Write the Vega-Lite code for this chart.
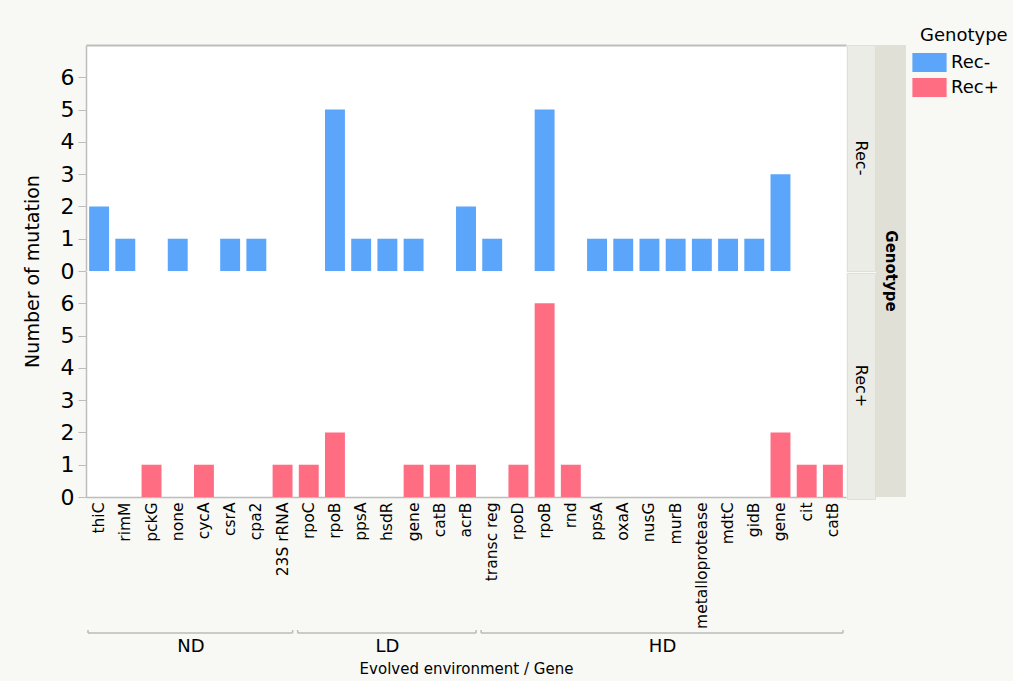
{
  "$schema": "https://vega.github.io/schema/vega-lite/v6.json",
  "background": "#f8f8f4",
  "padding": {"left": 23, "top": 27, "right": 5, "bottom": 5},
  "config": {
    "font": "DejaVu Sans",
    "view": {"stroke": null},
    "axis": {"grid": false, "labelColor": "#000000", "titleColor": "#000000", "titleFontWeight": "normal"},
    "text": {"color": "#000000"}
  },
  "datasets": {
    "genes": [
      {"env": "ND", "gene": "thiC", "geno": "Rec-", "count": 2},
      {"env": "ND", "gene": "rimM", "geno": "Rec-", "count": 1},
      {"env": "ND", "gene": "pckG", "geno": "Rec-", "count": 0},
      {"env": "ND", "gene": "none", "geno": "Rec-", "count": 1},
      {"env": "ND", "gene": "cycA", "geno": "Rec-", "count": 0},
      {"env": "ND", "gene": "csrA", "geno": "Rec-", "count": 1},
      {"env": "ND", "gene": "cpa2", "geno": "Rec-", "count": 1},
      {"env": "ND", "gene": "23S rRNA", "geno": "Rec-", "count": 0},
      {"env": "LD", "gene": "rpoC", "geno": "Rec-", "count": 0},
      {"env": "LD", "gene": "rpoB", "geno": "Rec-", "count": 5},
      {"env": "LD", "gene": "ppsA", "geno": "Rec-", "count": 1},
      {"env": "LD", "gene": "hsdR", "geno": "Rec-", "count": 1},
      {"env": "LD", "gene": "gene", "geno": "Rec-", "count": 1},
      {"env": "LD", "gene": "catB", "geno": "Rec-", "count": 0},
      {"env": "LD", "gene": "acrB", "geno": "Rec-", "count": 2},
      {"env": "HD", "gene": "transc reg", "geno": "Rec-", "count": 1},
      {"env": "HD", "gene": "rpoD", "geno": "Rec-", "count": 0},
      {"env": "HD", "gene": "rpoB", "geno": "Rec-", "count": 5},
      {"env": "HD", "gene": "rnd", "geno": "Rec-", "count": 0},
      {"env": "HD", "gene": "ppsA", "geno": "Rec-", "count": 1},
      {"env": "HD", "gene": "oxaA", "geno": "Rec-", "count": 1},
      {"env": "HD", "gene": "nusG", "geno": "Rec-", "count": 1},
      {"env": "HD", "gene": "murB", "geno": "Rec-", "count": 1},
      {"env": "HD", "gene": "metalloprotease", "geno": "Rec-", "count": 1},
      {"env": "HD", "gene": "mdtC", "geno": "Rec-", "count": 1},
      {"env": "HD", "gene": "gidB", "geno": "Rec-", "count": 1},
      {"env": "HD", "gene": "gene", "geno": "Rec-", "count": 3},
      {"env": "HD", "gene": "cit", "geno": "Rec-", "count": 0},
      {"env": "HD", "gene": "catB", "geno": "Rec-", "count": 0},
      {"env": "ND", "gene": "thiC", "geno": "Rec+", "count": 0},
      {"env": "ND", "gene": "rimM", "geno": "Rec+", "count": 0},
      {"env": "ND", "gene": "pckG", "geno": "Rec+", "count": 1},
      {"env": "ND", "gene": "none", "geno": "Rec+", "count": 0},
      {"env": "ND", "gene": "cycA", "geno": "Rec+", "count": 1},
      {"env": "ND", "gene": "csrA", "geno": "Rec+", "count": 0},
      {"env": "ND", "gene": "cpa2", "geno": "Rec+", "count": 0},
      {"env": "ND", "gene": "23S rRNA", "geno": "Rec+", "count": 1},
      {"env": "LD", "gene": "rpoC", "geno": "Rec+", "count": 1},
      {"env": "LD", "gene": "rpoB", "geno": "Rec+", "count": 2},
      {"env": "LD", "gene": "ppsA", "geno": "Rec+", "count": 0},
      {"env": "LD", "gene": "hsdR", "geno": "Rec+", "count": 0},
      {"env": "LD", "gene": "gene", "geno": "Rec+", "count": 1},
      {"env": "LD", "gene": "catB", "geno": "Rec+", "count": 1},
      {"env": "LD", "gene": "acrB", "geno": "Rec+", "count": 1},
      {"env": "HD", "gene": "transc reg", "geno": "Rec+", "count": 0},
      {"env": "HD", "gene": "rpoD", "geno": "Rec+", "count": 1},
      {"env": "HD", "gene": "rpoB", "geno": "Rec+", "count": 6},
      {"env": "HD", "gene": "rnd", "geno": "Rec+", "count": 1},
      {"env": "HD", "gene": "ppsA", "geno": "Rec+", "count": 0},
      {"env": "HD", "gene": "oxaA", "geno": "Rec+", "count": 0},
      {"env": "HD", "gene": "nusG", "geno": "Rec+", "count": 0},
      {"env": "HD", "gene": "murB", "geno": "Rec+", "count": 0},
      {"env": "HD", "gene": "metalloprotease", "geno": "Rec+", "count": 0},
      {"env": "HD", "gene": "mdtC", "geno": "Rec+", "count": 0},
      {"env": "HD", "gene": "gidB", "geno": "Rec+", "count": 0},
      {"env": "HD", "gene": "gene", "geno": "Rec+", "count": 2},
      {"env": "HD", "gene": "cit", "geno": "Rec+", "count": 1},
      {"env": "HD", "gene": "catB", "geno": "Rec+", "count": 1}
    ],
    "envs": [
      {"env": "ND", "start": 0, "end": 8},
      {"env": "LD", "start": 8, "end": 15},
      {"env": "HD", "start": 15, "end": 29}
    ],
    "strips": [
      {"geno": "Rec-"},
      {"geno": "Rec+"}
    ],
    "facetTitle": [
      {"label": "Genotype"}
    ]
  },
  "spacing": 0,
  "vconcat": [
    {
      "spacing": 0,
      "hconcat": [
        {
          "spacing": 0,
          "bounds": "flush",
          "vconcat": [
            {
              "width": 760,
              "height": 226,
              "view": {"fill": "#ffffff"},
              "data": {"name": "genes"},
              "transform": [
                {"calculate": "datum.env + ':' + datum.gene", "as": "key"},
                {"filter": "datum.geno === 'Rec-'"}
              ],
              "mark": {"type": "bar", "width": {"band": 0.76}},
              "encoding": {
                "x": {
                  "field": "key", "type": "nominal", "sort": null,
                  "scale": {"paddingInner": 0, "paddingOuter": 0},
                  "axis": {"orient": "top", "labels": false, "ticks": false, "title": null, "domainColor": "#bdbdbd", "domainWidth": 2}
                },
                "y": {
                  "field": "count", "type": "quantitative",
                  "scale": {"domain": [0, 7], "nice": false},
                  "axis": {
                    "values": [0, 1, 2, 3, 4, 5, 6],
                    "title": "Number of mutation",
                    "titleY": 226,
                    "titleFontSize": 19,
                    "titlePadding": 18,
                    "labelFontSize": 22,
                    "labelPadding": 4,
                    "tickSize": 8,
                    "tickColor": "#bdbdbd",
                    "domainColor": "#bdbdbd",
                    "domainWidth": 1.5
                  }
                },
                "color": {
                  "field": "geno", "type": "nominal",
                  "scale": {"domain": ["Rec-", "Rec+"], "range": ["#5BA5FA", "#FF6D83"]},
                  "legend": {
                    "title": "Genotype",
                    "orient": "none",
                    "legendX": 834,
                    "legendY": -18,
                    "titleFontSize": 18,
                    "titleFontWeight": "normal",
                    "titleColor": "#000000",
                    "titlePadding": 8,
                    "labelFontSize": 18,
                    "labelColor": "#000000",
                    "labelOffset": 12,
                    "symbolType": "M-1.8,-1H1.8V1H-1.8Z",
                    "symbolSize": 361,
                    "symbolStrokeWidth": 0,
                    "symbolOpacity": 1,
                    "rowPadding": 6
                  }
                }
              }
            },
            {
              "width": 760,
              "height": 226,
              "view": {"fill": "#ffffff"},
              "data": {"name": "genes"},
              "transform": [
                {"calculate": "datum.env + ':' + datum.gene", "as": "key"},
                {"filter": "datum.geno === 'Rec+'"}
              ],
              "mark": {"type": "bar", "width": {"band": 0.76}},
              "encoding": {
                "x": {
                  "field": "key", "type": "nominal", "sort": null,
                  "scale": {"paddingInner": 0, "paddingOuter": 0},
                  "axis": {
                    "title": null,
                    "labelExpr": "split(datum.label, ':')[1]",
                    "labelAngle": -90,
                    "labelFontSize": 15.5,
                    "labelPadding": 5,
                    "ticks": false,
                    "domainColor": "#bdbdbd",
                    "domainWidth": 1.5
                  }
                },
                "y": {
                  "field": "count", "type": "quantitative",
                  "scale": {"domain": [0, 7], "nice": false},
                  "axis": {
                    "values": [0, 1, 2, 3, 4, 5, 6],
                    "title": null,
                    "labelFontSize": 22,
                    "labelPadding": 4,
                    "tickSize": 8,
                    "tickColor": "#bdbdbd",
                    "domainColor": "#bdbdbd",
                    "domainWidth": 1.5
                  }
                },
                "color": {"field": "geno", "type": "nominal"}
              }
            }
          ]
        },
        {
          "spacing": 0,
          "vconcat": [
            {
              "width": 28,
              "height": 226,
              "view": {"fill": "#ecece6", "stroke": "#dedfd6"},
              "data": {"name": "strips"},
              "transform": [{"filter": "datum.geno === 'Rec-'"}],
              "mark": {"type": "text", "angle": 90, "fontSize": 16},
              "encoding": {
                "x": {"field": "geno", "type": "nominal", "axis": null},
                "y": {"field": "geno", "type": "nominal", "axis": null},
                "text": {"field": "geno"}
              }
            },
            {
              "width": 28,
              "height": 226,
              "view": {"fill": "#ecece6", "stroke": "#dedfd6"},
              "data": {"name": "strips"},
              "transform": [{"filter": "datum.geno === 'Rec+'"}],
              "mark": {"type": "text", "angle": 90, "fontSize": 16},
              "encoding": {
                "x": {"field": "geno", "type": "nominal", "axis": null},
                "y": {"field": "geno", "type": "nominal", "axis": null},
                "text": {"field": "geno"}
              }
            }
          ]
        },
        {
          "width": 30,
          "height": 452,
          "view": {"fill": "#e0e0d6"},
          "data": {"name": "facetTitle"},
          "mark": {"type": "text", "angle": 90, "fontSize": 15, "fontWeight": "bold"},
          "encoding": {
            "x": {"field": "label", "type": "nominal", "axis": null},
            "y": {"field": "label", "type": "nominal", "axis": null},
            "text": {"field": "label"}
          }
        }
      ]
    },
    {
      "width": 760,
      "height": 29,
      "data": {"name": "envs"},
      "layer": [
        {
          "mark": {"type": "rule", "color": "#bbbbbb", "strokeWidth": 1.5, "xOffset": 2, "x2Offset": -3},
          "encoding": {
            "x": {
              "field": "start", "type": "quantitative",
              "scale": {"domain": [0, 29], "nice": false, "zero": false},
              "axis": {"title": "Evolved environment / Gene", "labels": false, "ticks": false, "domain": false, "titleFontSize": 15, "titlePadding": 2}
            },
            "x2": {"field": "end"},
            "y": {"datum": 9, "type": "quantitative", "scale": {"domain": [0, 10]}, "axis": null}
          }
        },
        {
          "mark": {"type": "rule", "color": "#bbbbbb", "strokeWidth": 1.5, "xOffset": 2},
          "encoding": {
            "x": {"field": "start", "type": "quantitative"},
            "y": {"datum": 9, "type": "quantitative"},
            "y2": {"datum": 10}
          }
        },
        {
          "mark": {"type": "rule", "color": "#bbbbbb", "strokeWidth": 1.5, "xOffset": -3},
          "encoding": {
            "x": {"field": "end", "type": "quantitative"},
            "y": {"datum": 9, "type": "quantitative"},
            "y2": {"datum": 10}
          }
        },
        {
          "transform": [{"calculate": "(datum.start + datum.end) / 2", "as": "mid"}],
          "mark": {"type": "text", "fontSize": 18, "baseline": "middle"},
          "encoding": {
            "x": {"field": "mid", "type": "quantitative"},
            "y": {"datum": 4.3, "type": "quantitative"},
            "text": {"field": "env"}
          }
        }
      ]
    }
  ]
}
